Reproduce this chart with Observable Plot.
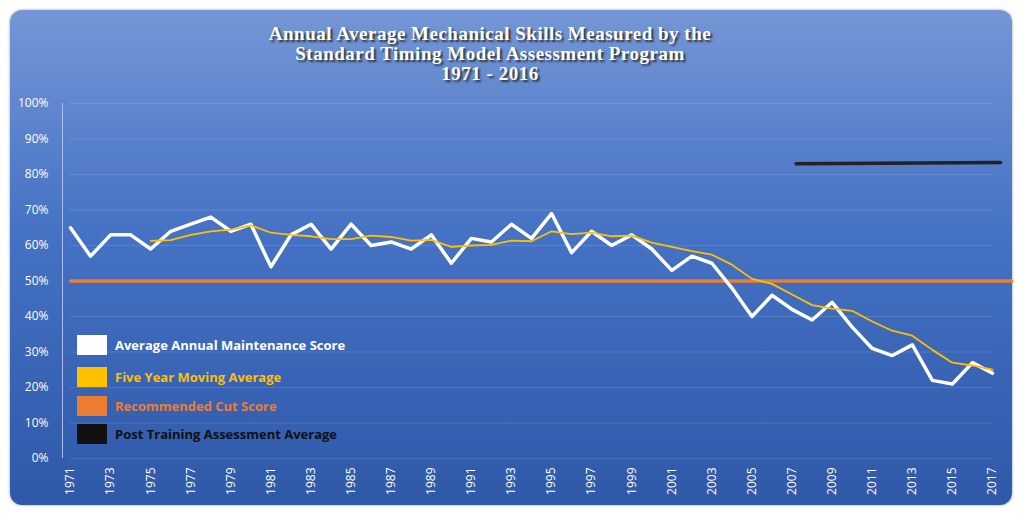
<!DOCTYPE html>
<html><head><meta charset="utf-8">
<script src="https://cdn.jsdelivr.net/npm/d3@7"></script>
<script src="https://cdn.jsdelivr.net/npm/@observablehq/plot@0.6"></script>
<style>
body{margin:0;background:#fff;}
#wrap{position:relative;width:1024px;height:516px;overflow:hidden;}
#frame{position:absolute;left:10px;top:10px;width:1002px;height:495px;border-radius:12px;background:linear-gradient(#7496d6,#4572c4 45%,#2f58a8);box-shadow:0 0 3px #999;}
#title{position:absolute;left:0;top:24px;width:980px;text-align:center;color:#fff;font-family:"Liberation Serif",serif;font-weight:bold;font-size:19px;line-height:20px;letter-spacing:0.5px;text-shadow:2px 2px 2px #333;}
#plot{position:absolute;left:0;top:95px;}
.leg{position:absolute;left:77px;font-family:"Open Sans",sans-serif;font-weight:bold;font-size:13px;display:flex;align-items:center;}
.leg span.b{display:inline-block;width:30px;height:20px;margin-right:8px;}
</style></head><body>
<div id="wrap"><div id="frame"></div>
<div id="title">Annual Average Mechanical Skills Measured by the<br>Standard Timing Model Assessment Program<br>1971 - 2016</div>
<div id="plot"></div>
<div class="leg" style="top:335px;color:#fff"><span class="b" style="background:#fff"></span>Average Annual Maintenance Score</div>
<div class="leg" style="top:367px;color:#ffc000"><span class="b" style="background:#ffc000"></span>Five Year Moving Average</div>
<div class="leg" style="top:396px;color:#ed7d31"><span class="b" style="background:#ed7d31"></span>Recommended Cut Score</div>
<div class="leg" style="top:424px;color:#111"><span class="b" style="background:#111"></span>Post Training Assessment Average</div>
</div>
<script>
const years = d3.range(1971, 2018);
const scores = [65,57,63,63,59,64,66,68,64,66,54,63,66,59,66,60,61,59,63,55,62,61,66,62,69,58,64,60,63,59,53,57,55,48,40,46,42,39,44,37,31,29,32,22,21,27,24];
const maYears = d3.range(1975, 2018);
const movingAvg = [61.3,61.5,63,64,64.5,65.7,63.6,63,62.6,61.8,61.8,62.8,62.4,61.4,61.6,59.6,60,60.2,61.4,61.2,64,63.2,63.6,62.6,62.8,60.8,59.6,58.4,57.4,54.6,50.6,49.2,46.2,43.2,42.2,41.6,38.6,36,34.6,30.6,27,26.2,25];
const cutYears = [1971, 2017.95];
const cutScore = [50, 50];
const postYears = [2007.2, 2017.4];
const postScore = [83, 83.4];
const yTicks = d3.range(0, 101, 10);
const xTicks = d3.range(1971, 2018, 2);

const S = (xs, ys) => xs.map((x, i) => ({x, y: ys[i] / 100}));
const chart = Plot.plot({
  width: 1024, height: 415, marginTop: 8, marginBottom: 52, marginLeft: 70, marginRight: 32,
  style: {background: "transparent", color: "#fff", fontFamily: "Open Sans, sans-serif", fontSize: "12px"},
  x: {domain: [1971, 2017], ticks: xTicks, tickFormat: d => String(d), tickRotate: -90, tickSize: 0, label: null},
  y: {domain: [0, 1], ticks: yTicks.map(v => v / 100), tickFormat: d3.format(".0%"), tickSize: 0, tickPadding: 22, label: null},
  marks: [
    Plot.gridY(yTicks.map(v => v / 100), {stroke: "#fff", strokeOpacity: 0.12}),
    Plot.ruleX([0], {x: () => 1971, dx: -8, stroke: "#a9c0ea"}),
    Plot.line(S(cutYears, cutScore), {x: "x", y: "y", stroke: "#ed7d31", strokeWidth: 3.5, clip: false}),
    Plot.line(S(years, scores), {x: "x", y: "y", stroke: "#fff", strokeWidth: 3.5}),
    Plot.line(S(maYears, movingAvg), {x: "x", y: "y", stroke: "#ffc000", strokeWidth: 1.8}),
    Plot.line(S(postYears, postScore), {x: "x", y: "y", stroke: "#222", strokeWidth: 3.5, clip: false})
  ]
});
document.getElementById("plot").append(chart);
</script></body></html>
